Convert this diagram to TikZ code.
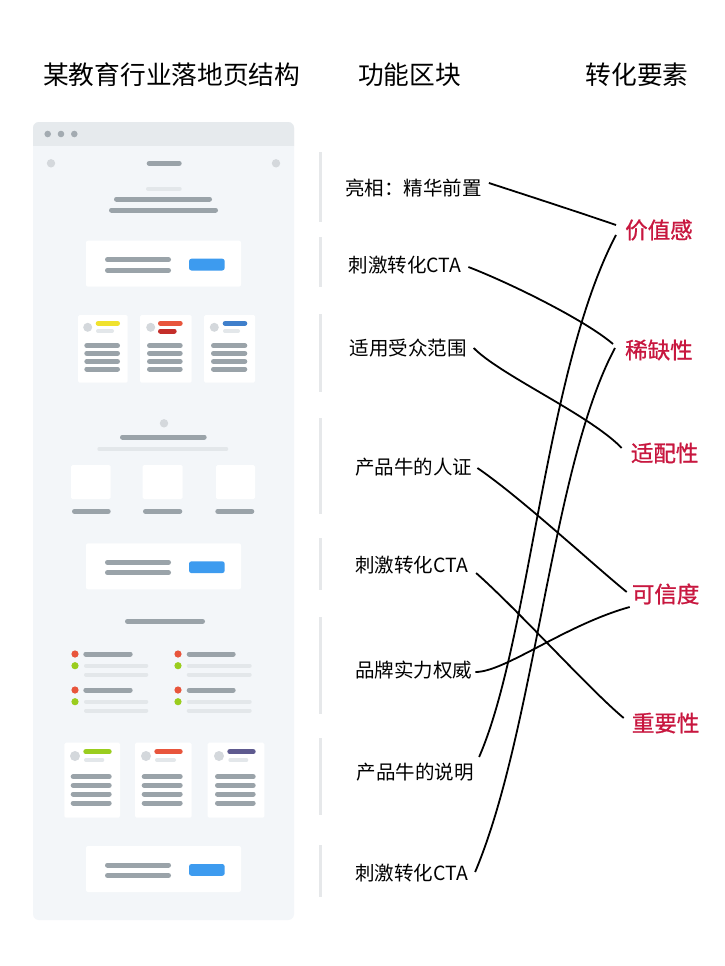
\documentclass[tikz,border=0pt]{standalone}
\usepackage{fontspec}
\setmainfont{Noto Sans CJK SC}
\newfontfamily\redfont{Noto Sans CJK SC}[FakeBold=1]
\definecolor{bodyc}{HTML}{F3F6F9}
\definecolor{topc}{HTML}{E6EAED}
\definecolor{dotc}{HTML}{A3ABB1}
\definecolor{circc}{HTML}{D4D8DC}
\definecolor{barg}{HTML}{9AA3A9}
\definecolor{lbarg}{HTML}{E3E7EA}
\definecolor{btnblue}{HTML}{3D9BEF}
\definecolor{yel}{HTML}{F0E22E}
\definecolor{ored}{HTML}{E8553C}
\definecolor{dred}{HTML}{C42E2A}
\definecolor{cblue}{HTML}{3F7FCB}
\definecolor{lgreen}{HTML}{9ACD1E}
\definecolor{purp}{HTML}{5E5A8F}
\definecolor{sepc}{HTML}{E6E8EA}
\definecolor{redtxt}{HTML}{C8173F}
\newcommand\mkbar[4][barg]{\draw[line width=5pt,line cap=round,draw=#1] (#2+2.5,#4) -- (#3-2.5,#4);}
\newcommand\mklbar[3]{\draw[line width=4pt,line cap=round,draw=lbarg] (#1+2,#3) -- (#2-2,#3);}
\newcommand\mkcta[1]{%
  \fill[white,rounded corners=2pt] (86,#1) rectangle (241,#1+46);
  \mkbar{105}{171}{#1+19}
  \mkbar{105}{171}{#1+29.5}
  \fill[btnblue,rounded corners=2.5pt] (189,#1+18) rectangle (224.7,#1+29.8);}
\begin{document}
\begin{tikzpicture}[x=1pt,y=-1pt,
  head/.style={inner sep=0pt,font=\fontsize{25.7}{30}\selectfont},
  blk/.style={inner sep=0pt,anchor=west,font=\fontsize{19.5}{23}\selectfont},
  elem/.style={inner sep=0pt,anchor=west,text=redtxt,font=\redfont\fontsize{22.5}{26}\selectfont},
  link/.style={line width=1.8pt,black},
  sep/.style={line width=3pt,draw=sepc}]
\useasboundingbox (0,0) rectangle (724,966);
\fill[white] (0,0) rectangle (724,966);
% headers
\node[head] (h1) at (171.7,75) {某教育行业落地页结构};
\node[head] (h2) at (409.5,75) {功能区块};
\node[head] (h3) at (637,75) {转化要素};
% window
\fill[bodyc,rounded corners=6pt] (33,122) rectangle (294,920);
\fill[topc,rounded corners=6pt] (33,122) rectangle (294,152);
\fill[bodyc] (33,146) rectangle (294,153);
\foreach \x in {47.7,61,74.3} \fill[dotc] (\x,134) circle (3.3);
\fill[circc] (51,163.3) circle (4.2);
\fill[circc] (276,163.3) circle (4.2);
\mkbar{146.7}{181.7}{163.3}
\mklbar{146}{181.7}{188.7}
\mkbar{114}{212}{199}
\mkbar{109}{218}{210}
\mkcta{240.7}
% cards row 1
\foreach \a/\b in {78/127.7,140/191.7,204/255}{
  \fill[white,rounded corners=1.5pt] (\a,315) rectangle (\b,382.7);}
\fill[circc] (87.7,327.3) circle (4.5);
\mkbar[yel]{95.7}{120}{323.3}
\mklbar{96}{114}{331}
\fill[circc] (150.7,327.3) circle (4.5);
\mkbar[ored]{158}{182.7}{323.3}
\mkbar[dred]{158}{176.7}{331}
\fill[circc] (214.3,327.3) circle (4.5);
\mkbar[cblue]{222.7}{247.3}{323.3}
\mklbar{223}{240}{331}
\foreach \y in {345.7,353.3,361.5,369}{
  \mkbar{84.3}{120}{\y}
  \mkbar{147}{182.7}{\y}
  \mkbar{211}{247.3}{\y}}
% section 4
\fill[circc] (164,423.3) circle (4.2);
\mkbar{120}{206.7}{437}
\mklbar{97.3}{228.3}{449}
\foreach \a/\b in {71/110.7,142.7/182.7,216/255}{
  \fill[white,rounded corners=1.5pt] (\a,465) rectangle (\b,499);}
\mkbar{72}{110.7}{511.3}
\mkbar{143}{182.3}{511.3}
\mkbar{215.3}{254.3}{511.3}
\mkcta{543.3}
% section 6
\mkbar{125}{205}{621.3}
\foreach \y in {654,690}{
  \fill[ored] (75,\y) circle (3.6);
  \fill[lgreen] (75,\y+11.7) circle (3.6);
  \mkbar{83.3}{132.7}{\y}
  \mklbar{84}{148.3}{\y+11.7}
  \mklbar{84}{148.3}{\y+20.5}
  \fill[ored] (178,\y) circle (3.6);
  \fill[lgreen] (178,\y+11.7) circle (3.6);
  \mkbar{186.7}{235.7}{\y}
  \mklbar{186.7}{251.7}{\y+11.7}
  \mklbar{186.7}{251.7}{\y+20.5}}
% cards row 2
\foreach \a/\b in {64.3/120,135/191.7,207.7/264.3}{
  \fill[white,rounded corners=1.5pt] (\a,742.7) rectangle (\b,817.7);}
\fill[circc] (75,756) circle (5);
\mkbar[lgreen]{83.3}{111.7}{751.7}
\mklbar{84}{104.3}{760}
\fill[circc] (146,756) circle (5);
\mkbar[ored]{154.3}{182.7}{751.7}
\mklbar{155}{176}{760}
\fill[circc] (219,756) circle (5);
\mkbar[purp]{227.3}{255.7}{751.7}
\mklbar{228.3}{248.3}{760}
\foreach \y in {776.7,785.3,794,803}{
  \mkbar{70.7}{111.7}{\y}
  \mkbar{141.7}{182.7}{\y}
  \mkbar{215}{255.7}{\y}}
\mkcta{846}
% separators
\foreach \a/\b in {152/222,237/287,314/392,418/514,538/590,617/714,738/815,845/897}
  \draw[sep] (320,\a) -- (320,\b);
% block labels
\node[blk] (b1) at (345,188) {亮相：精华前置};
\node[blk] (b2) at (348.3,265) {刺激转化CTA};
\node[blk] (b3) at (349.3,348) {适用受众范围};
\node[blk] (b4) at (355,467) {产品牛的人证};
\node[blk] (b5) at (355,565) {刺激转化CTA};
\node[blk] (b6) at (355,670) {品牌实力权威};
\node[blk] (b7) at (356.7,772) {产品牛的说明};
\node[blk] (b8) at (355,873) {刺激转化CTA};
% elements
\node[elem] (e1) at (625,230) {价值感};
\node[elem] (e2) at (625,350) {稀缺性};
\node[elem] (e3) at (630.7,453) {适配性};
\node[elem] (e4) at (631.7,594) {可信度};
\node[elem] (e5) at (631.7,723) {重要性};
% links
\draw[link] ([xshift=7pt,yshift=5pt]b1.east) .. controls (532,197) and (578,212) .. ([xshift=-9pt,yshift=5pt]e1.west);
\draw[link] ([xshift=7pt,yshift=-2pt]b2.east) .. controls (510,283) and (585,320) .. ([xshift=-12pt,yshift=6pt]e2.west);
\draw[link] ([xshift=7pt]b3.east) .. controls (500,375) and (590,415) .. ([xshift=-9pt,yshift=5pt]e3.west);
\draw[link] ([xshift=5pt,yshift=-1pt]b4.east) .. controls (520,497) and (590,562) .. ([xshift=-5pt,yshift=2pt]e4.west);
\draw[link] ([xshift=8pt,yshift=-8pt]b5.east) .. controls (520,612) and (590,690) .. ([xshift=-8pt,yshift=5pt]e5.west);
\draw[link] ([xshift=3pt,yshift=-2pt]b6.east) .. controls (505,672) and (565,625) .. ([xshift=-2pt,yshift=-13pt]e4.west);
\draw[link] ([xshift=5pt,yshift=15pt]b7.east) .. controls (530,640) and (545,370) .. ([xshift=-9pt,yshift=-5pt]e1.west);
\draw[link] ([xshift=7pt,yshift=1pt]b8.east) .. controls (535,730) and (552,465) .. ([xshift=-10pt,yshift=2pt]e2.west);
\end{tikzpicture}
\end{document}
